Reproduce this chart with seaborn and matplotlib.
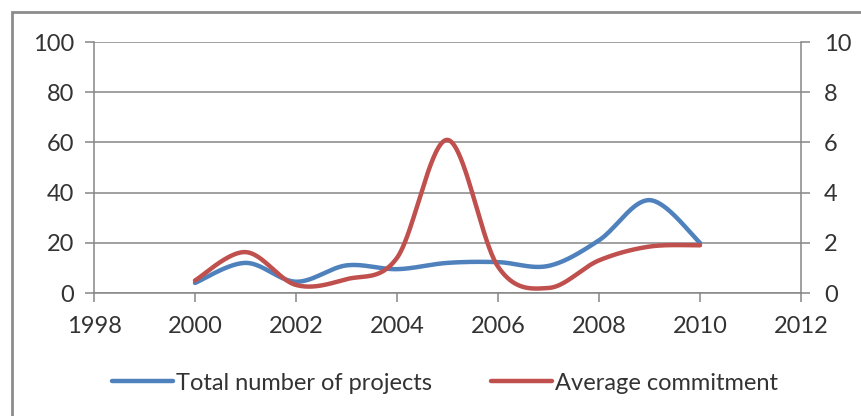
import numpy as np
import pandas as pd
import matplotlib
matplotlib.use("Agg")
import matplotlib.pyplot as plt
import seaborn as sns
from matplotlib.lines import Line2D
from matplotlib.patches import Rectangle

years = [2000, 2001, 2002, 2003, 2004, 2005, 2006, 2007, 2008, 2009, 2010]
total_projects = [4, 12, 4.5, 11, 9.5, 12, 12.3, 10.8, 21, 37, 20]
avg_commitment = [0.5, 1.63, 0.32, 0.55, 1.4, 6.1, 1.05, 0.2, 1.3, 1.85, 1.9]

x_ticks = [1998, 2000, 2002, 2004, 2006, 2008, 2010, 2012]
left_ticks = [0, 20, 40, 60, 80, 100]
right_ticks = [0, 2, 4, 6, 8, 10]
series_names = ["Total number of projects", "Average commitment"]

BLUE = "#4F81BD"
RED = "#C0504D"
GRID = "#868686"
TXT = "#333333"
FS = 17


def smooth(xv, yv, n=40):
    """Excel-like smoothed curve: cubic Bezier with Catmull-Rom control points."""
    P = np.column_stack([np.asarray(xv, float), np.asarray(yv, float)])
    Pext = np.vstack([P[0], P, P[-1]])
    out = []
    t = np.linspace(0, 1, n)[:, None]
    for i in range(len(P) - 1):
        p0, p1, p2, p3 = Pext[i], Pext[i + 1], Pext[i + 2], Pext[i + 3]
        c1 = p1 + (p2 - p0) / 6.0
        c2 = p2 - (p3 - p1) / 6.0
        seg = ((1 - t) ** 3) * p1 + 3 * ((1 - t) ** 2) * t * c1 + 3 * (1 - t) * t ** 2 * c2 + t ** 3 * p2
        out.append(seg if i == 0 else seg[1:])
    S = np.vstack(out)
    return S[:, 0], S[:, 1]


sns.set_theme(style="white")
plt.rcParams["font.family"] = ["Lato", "DejaVu Sans"]

W, H = 861, 416
fig = plt.figure(figsize=(W / 100, H / 100), dpi=100)
fig.patch.set_facecolor("white")

L, R, T, B = 94, 801, 42, 293
ax = fig.add_axes([L / W, 1 - B / H, (R - L) / W, (B - T) / H])
ax2 = ax.twinx()

bx, by = smooth(years, total_projects)
rx, ry = smooth(years, avg_commitment)
df_b = pd.DataFrame({"x": bx, "y": by})
df_r = pd.DataFrame({"x": rx, "y": ry})

ax.set_xlim(1998, 2012)
ax.set_ylim(0, 100)
ax2.set_ylim(0, 10)
ax.set_xticks(x_ticks)
ax.set_yticks(left_ticks)
ax2.set_yticks(right_ticks)

for yv in left_ticks:
    ax.axhline(yv, color=GRID, lw=1.1, zorder=1)

sns.lineplot(data=df_b, x="x", y="y", ax=ax, sort=False, color=BLUE, lw=3.2,
             estimator=None, legend=False, zorder=3)
sns.lineplot(data=df_r, x="x", y="y", ax=ax2, sort=False, color=RED, lw=3.2,
             estimator=None, legend=False, zorder=3)

for a in (ax, ax2):
    a.set_xlabel("")
    a.set_ylabel("")
    a.grid(False)
    for s in a.spines.values():
        s.set_visible(False)
    a.set_facecolor("none")

ax.spines["left"].set_visible(True)
ax.spines["left"].set_color(GRID)
ax.spines["bottom"].set_visible(True)
ax.spines["bottom"].set_color(GRID)
ax2.spines["right"].set_visible(True)
ax2.spines["right"].set_color(GRID)
for s in ("left", "bottom"):
    ax.spines[s].set_linewidth(1.1)
ax2.spines["right"].set_linewidth(1.1)

ax.tick_params(axis="x", direction="out", length=6.5, width=1.1, color=GRID,
               labelsize=FS, labelcolor=TXT, pad=10, bottom=True)
ax.tick_params(axis="y", direction="out", length=6.5, width=1.1, color=GRID,
               labelsize=FS, labelcolor=TXT, pad=8, left=True)
ax2.tick_params(axis="y", direction="out", length=6.5, width=1.1, color=GRID,
                labelsize=FS, labelcolor=TXT, pad=10, right=True)
ax.set_xticklabels([str(v) for v in x_ticks])
ax.set_yticklabels([str(v) for v in left_ticks])
ax2.set_yticklabels([str(v) for v in right_ticks])

handles = [Line2D([], [], color=BLUE, lw=3.2, solid_capstyle="round"),
           Line2D([], [], color=RED, lw=3.2, solid_capstyle="round")]
fig.legend(handles, series_names, loc="center", bbox_to_anchor=(445 / W, 1 - 383 / H),
           ncol=2, frameon=False, fontsize=FS, handlelength=2.6, handletextpad=0.12,
           columnspacing=2.5, labelcolor=TXT)

fig.add_artist(Rectangle((11.5 / W, -0.2), 1.2, 1 - 12 / H + 0.2, transform=fig.transFigure,
                         fill=False, edgecolor="#8c8c8c", lw=2.0))

fig.savefig("out.png", dpi=100)
